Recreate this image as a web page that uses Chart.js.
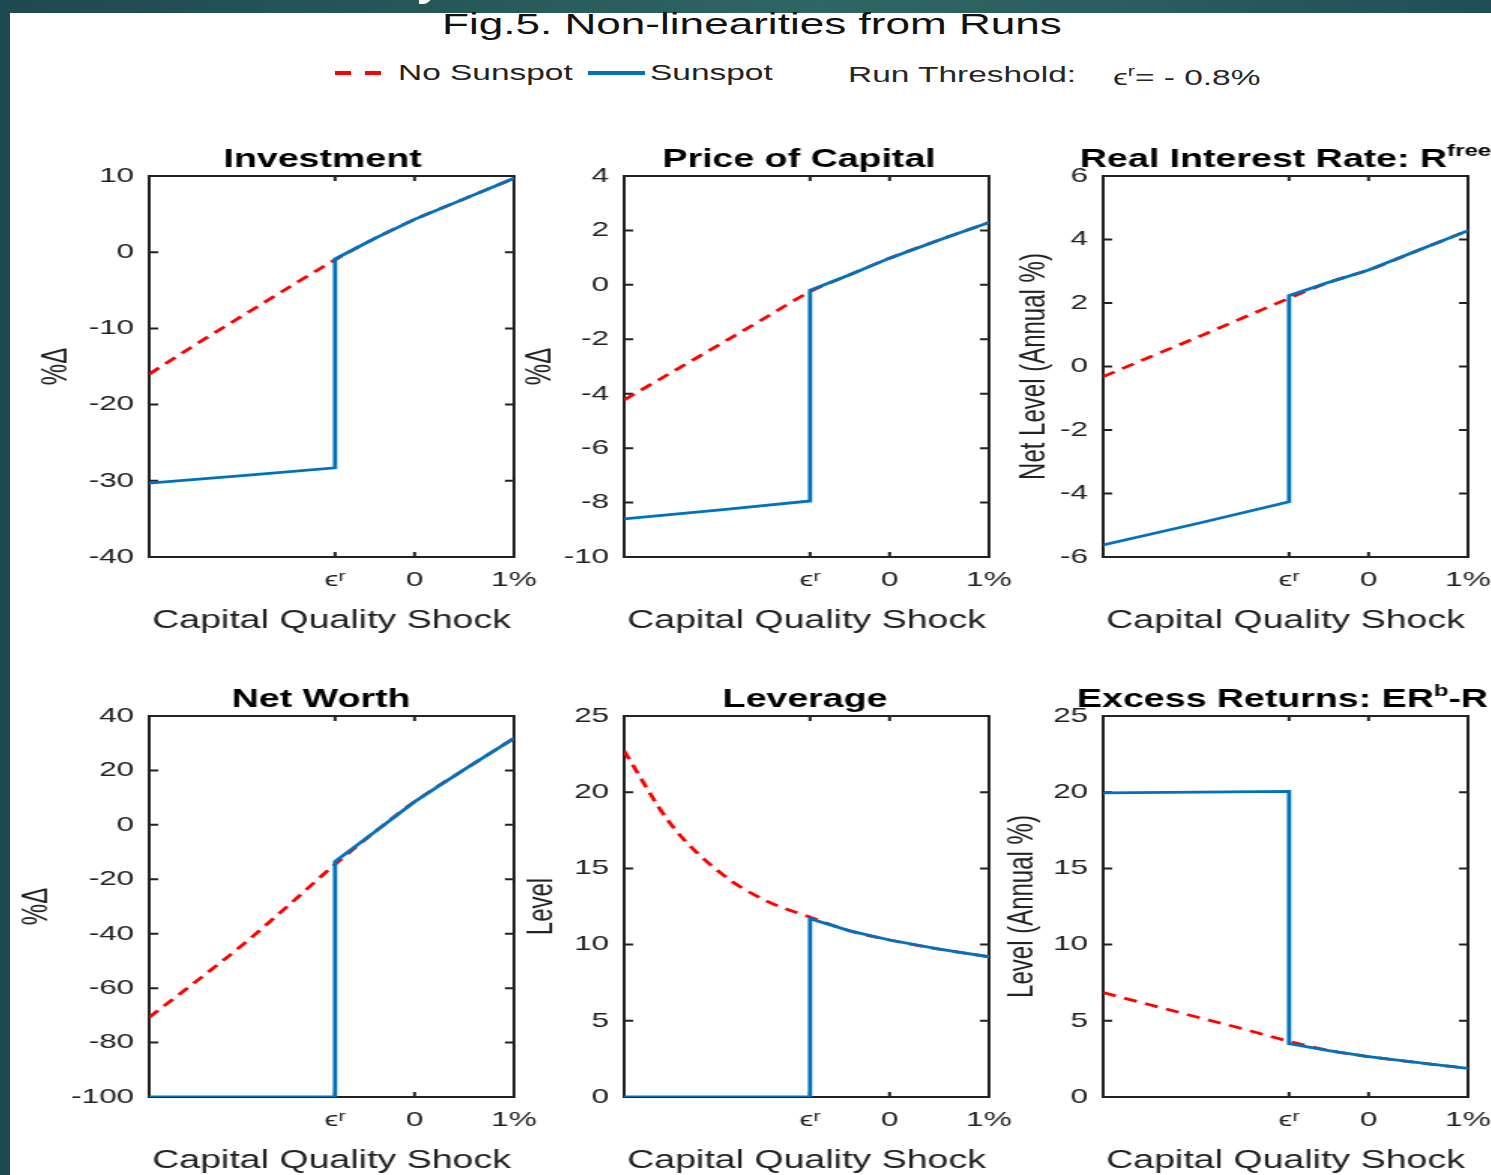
<!DOCTYPE html>
<html>
<head>
<meta charset="utf-8">
<script src="https://cdn.jsdelivr.net/npm/chart.js@4.4.0/dist/chart.umd.min.js"></script>
<style>
  html, body { margin: 0; padding: 0; }
  body {
    width: 1491px; height: 1175px; overflow: hidden; position: relative;
    background: linear-gradient(90deg, #1f4950 0%, #275858 30%, #2f6663 55%, #2a5e5f 75%, #214e56 100%);
    font-family: "Liberation Sans", Arial, sans-serif;
  }
  #sheet { position: absolute; left: 10px; top: 13px; right: 0; bottom: 0; background: #fff; }
  #slideTitle { position: absolute; left: 0; top: 0; width: 1491px; height: 13px; overflow: hidden; }
  #slideTitle span { position: absolute; left: 417px; top: -58px; font-size: 60px; color: #fff; line-height: 60px; }
  .stretch {
    position: absolute; white-space: nowrap; line-height: 1;
    transform: scaleX(1.52); transform-origin: 0 0;
  }
  .swatch { position: absolute; height: 4px; }
  canvas { position: absolute; }
</style>
</head>
<body>
<div id="slideTitle"><span>y</span></div>
<div id="sheet"></div>
<div class="stretch" id="figTitle" style="left:442px; top:10px; font-size:29px; color:#111;">Fig.5. Non-linearities from Runs</div>
<div id="legend"></div>
<div class="stretch" style="left:848px; top:64px; font-size:22px; color:#262626;">Run Threshold:</div>
<div class="stretch" style="left:1113px; top:64px; font-size:22px; color:#262626;">ϵ<sup style="font-size:14px; vertical-align:9px;">r</sup>= - 0.8%</div>

<script>
// shock grid (percent) for each series
const shockNoSunspot = [-2.67, -2.2, -1.7, -1.25, -0.8, -0.4, 0, 0.5, 1];
const shockSunspot = [-2.67, -1.7, -0.8, -0.8, -0.4, 0, 0.5, 1];
const shockTicks = [-0.8, 0, 1];
const shockTickLabels = ['ϵʳ', '0', '1%'];
const seriesNames = ['No Sunspot', 'Sunspot'];

// Investment
const invNoSunspot = [-16.0, -12.1, -8.1, -4.5, -1.0, 1.8, 4.3, 7.0, 9.7];
const invSunspot = [-30.3, -29.3, -28.3, -0.9, 1.8, 4.3, 7.0, 9.7];
const invTicks = [-40, -30, -20, -10, 0, 10];

// Price of capital
const priceNoSunspot = [-4.23, -3.23, -2.17, -1.21, -0.25, 0.37, 0.98, 1.65, 2.29];
const priceSunspot = [-8.6, -8.27, -7.94, -0.2, 0.37, 0.98, 1.65, 2.29];
const priceTicks = [-10, -8, -6, -4, -2, 0, 2, 4];

// Real interest rate
const rateNoSunspot = [-0.32, 0.3, 0.95, 1.55, 2.15, 2.65, 3.04, 3.66, 4.28];
const rateSunspot = [-5.62, -4.93, -4.26, 2.23, 2.65, 3.04, 3.66, 4.28];
const rateTicks = [-6, -4, -2, 0, 2, 4, 6];

// Net worth
const nwNoSunspot = [-70.7, -57.6, -43.2, -29.0, -14.5, -2.6, 8.5, 20.3, 31.8];
const nwSunspot = [-100, -100, -100, -13.5, -2.6, 8.5, 20.3, 31.8];
const nwTicks = [-100, -80, -60, -40, -20, 0, 20, 40];

// Leverage
const levNoSunspot = [22.7, 17.9, 14.7, 12.9, 11.8, 10.9, 10.3, 9.7, 9.2];
const levSunspot = [0, 0, 0, 11.7, 10.9, 10.3, 9.7, 9.2];
const levTicks = [0, 5, 10, 15, 20, 25];

// Excess returns
const erNoSunspot = [6.85, 6.05, 5.2, 4.45, 3.65, 3.05, 2.65, 2.25, 1.88];
const erSunspot = [19.95, 20.0, 20.05, 3.5, 3.05, 2.65, 2.25, 1.88];
const erTicks = [0, 5, 10, 15, 20, 25];

const noSunspotColor = '#ff0000';
const sunspotColor = '#0072bd';
const axisColor = '#222222';
const fontFamily = '"Liberation Sans", Arial, sans-serif';

// the original figure is stretched sideways, so the canvases are too
const stretch = 1.5;
const plotW = 243, plotH = 381, axisW = 100, padRight = 30, padTop = 60, axisH = 85;
const colLeft = [149, 624, 1103];
const rowTop = [176, 716];

const panels = [
  { title: ['Investment', '', ''], shift: -6, yLabel: '%Δ', yOff: 62, ticks: invTicks, red: invNoSunspot, blue: invSunspot },
  { title: ['Price of Capital', '', ''], shift: -5, yLabel: '%Δ', yOff: 56, ticks: priceTicks, red: priceNoSunspot, blue: priceSunspot },
  { title: ['Real Interest Rate: R', 'free', ''], shift: 0, yLabel: 'Net Level (Annual %)', yOff: 46, ticks: rateTicks, red: rateNoSunspot, blue: rateSunspot },
  { title: ['Net Worth', '', ''], shift: -7, yLabel: '%Δ', yOff: 75, ticks: nwTicks, red: nwNoSunspot, blue: nwSunspot },
  { title: ['Leverage', '', ''], shift: -1, yLabel: 'Level', yOff: 55, ticks: levTicks, red: levNoSunspot, blue: levSunspot },
  { title: ['Excess Returns: ER', 'b', '-R'], shift: -2, yLabel: 'Level (Annual %)', yOff: 54, ticks: erTicks, red: erNoSunspot, blue: erSunspot }
];

// box with inward ticks on all four sides + panel title, like matlab
const matlabFrame = {
  id: 'matlabFrame',
  beforeDatasetsDraw(chart, args, opts) {
    const { ctx, chartArea: a, scales } = chart;
    ctx.save();
    ctx.strokeStyle = axisColor;
    ctx.lineWidth = 2;
    ctx.strokeRect(a.left, a.top, a.right - a.left, a.bottom - a.top);
    ctx.beginPath();
    scales.y.ticks.forEach(t => {
      const py = scales.y.getPixelForValue(t.value);
      ctx.moveTo(a.left, py); ctx.lineTo(a.left + 6, py);
      ctx.moveTo(a.right, py); ctx.lineTo(a.right - 6, py);
    });
    scales.x.ticks.forEach(t => {
      const px = scales.x.getPixelForValue(t.value);
      ctx.moveTo(px, a.top); ctx.lineTo(px, a.top + 5);
      ctx.moveTo(px, a.bottom); ctx.lineTo(px, a.bottom - 5);
    });
    ctx.stroke();

    const [base, sup, tail] = opts.title;
    const big = 'bold 25px ' + fontFamily, small = 'bold 16px ' + fontFamily;
    ctx.font = big;
    const wb = ctx.measureText(base).width, wt = ctx.measureText(tail).width;
    ctx.font = small;
    const ws = sup ? ctx.measureText(sup).width : 0;
    let x = (a.left + a.right) / 2 + opts.shift - (wb + ws + wt) / 2;
    const y = a.top - 9;
    ctx.fillStyle = '#000';
    ctx.textBaseline = 'alphabetic';
    ctx.textAlign = 'left';
    ctx.font = big;
    ctx.fillText(base, x, y);
    if (sup) { ctx.font = small; ctx.fillText(sup, x + wb, y - 11); }
    if (tail) { ctx.font = big; ctx.fillText(tail, x + wb + ws, y); }
    ctx.restore();
  }
};

const W = axisW + plotW + padRight;
const H = padTop + plotH + axisH;

panels.forEach((p, i) => {
  const col = i % 3, row = Math.floor(i / 3);
  const canvas = document.createElement('canvas');
  canvas.width = W;
  canvas.height = H;
  canvas.style.left = (colLeft[col] - axisW * stretch) + 'px';
  canvas.style.top = (rowTop[row] - padTop) + 'px';
  canvas.style.width = (W * stretch) + 'px';
  canvas.style.height = H + 'px';
  document.body.appendChild(canvas);

  new Chart(canvas, {
    type: 'line',
    data: {
      datasets: [
        {
          label: seriesNames[0],
          data: shockNoSunspot.map((x, k) => ({ x: x, y: p.red[k] })),
          borderColor: noSunspotColor,
          borderWidth: 2.8,
          borderDash: [9, 6],
          cubicInterpolationMode: 'monotone',
          pointRadius: 0,
          order: 2
        },
        {
          label: seriesNames[1],
          data: shockSunspot.map((x, k) => ({ x: x, y: p.blue[k] })),
          borderColor: sunspotColor,
          borderWidth: 2.8,
          tension: 0,
          pointRadius: 0,
          order: 1
        }
      ]
    },
    options: {
      responsive: false,
      animation: false,
      devicePixelRatio: 1,
      events: [],
      layout: { padding: { top: padTop, right: padRight, left: 0, bottom: 0 } },
      plugins: {
        legend: { display: false },
        tooltip: { enabled: false },
        matlabFrame: { title: p.title, shift: p.shift }
      },
      scales: {
        x: {
          type: 'linear',
          min: -2.67,
          max: 1,
          grid: { display: false, drawTicks: false },
          border: { display: false },
          afterBuildTicks: s => { s.ticks = shockTicks.map(v => ({ value: v })); },
          afterFit: s => { s.height = axisH; },
          ticks: {
            autoSkip: false, maxRotation: 0, padding: 11, color: axisColor,
            font: { family: fontFamily, size: 21 },
            callback: (v, k) => shockTickLabels[k]
          },
          title: {
            display: true, text: 'Capital Quality Shock', color: axisColor,
            font: { family: fontFamily, size: 25 }, padding: { top: 0, bottom: 6 }
          }
        },
        y: {
          min: p.ticks[0],
          max: p.ticks[p.ticks.length - 1],
          grid: { display: false, drawTicks: false },
          border: { display: false },
          afterBuildTicks: s => { s.ticks = p.ticks.map(v => ({ value: v })); },
          afterFit: s => { s.width = axisW; },
          ticks: {
            padding: 10, color: axisColor,
            font: { family: fontFamily, size: 21 },
            callback: v => String(v)
          },
          title: {
            display: true, text: p.yLabel, color: axisColor,
            font: { family: fontFamily, size: 24 },
            padding: { top: axisW - p.yOff - 14.4, bottom: 0 }
          }
        }
      }
    },
    plugins: [matlabFrame]
  });
});

// legend above the grid
const legend = document.getElementById('legend');
const legendItems = [
  { name: seriesNames[0], swatchX: 335, swatchW: 46, textX: 398, bg: 'repeating-linear-gradient(90deg, ' + noSunspotColor + ' 0 16px, transparent 16px 30px)' },
  { name: seriesNames[1], swatchX: 588, swatchW: 57, textX: 650, bg: sunspotColor }
];
legendItems.forEach(it => {
  const sw = document.createElement('div');
  sw.className = 'swatch';
  sw.style.left = it.swatchX + 'px';
  sw.style.top = '71px';
  sw.style.width = it.swatchW + 'px';
  sw.style.background = it.bg;
  legend.appendChild(sw);
  const tx = document.createElement('div');
  tx.className = 'stretch';
  tx.style.left = it.textX + 'px';
  tx.style.top = '62px';
  tx.style.fontSize = '22px';
  tx.style.color = axisColor;
  tx.textContent = it.name;
  legend.appendChild(tx);
});
</script>
</body>
</html>
